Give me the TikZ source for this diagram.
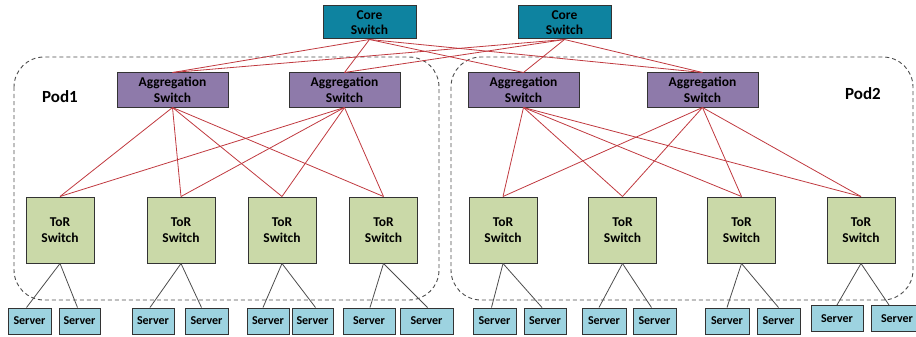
\documentclass[tikz,border=0pt]{standalone}
\usepackage{fontspec}
\setmainfont{Carlito}
\begin{document}
\begin{tikzpicture}[x=1pt,y=-1pt,
  box/.style={draw=black!80, line width=1pt, font=\bfseries\fontsize{13.5}{15.5}\selectfont,
    align=center, inner sep=0pt, text=black},
  coresw/.style={box, fill=coreblue, minimum width=93pt, minimum height=33pt},
  aggsw/.style={box, fill=aggpurple, minimum width=111pt, minimum height=34pt},
  torsw/.style={box, fill=torgreen, minimum width=68pt, minimum height=66pt},
  srv/.style={box, fill=srvblue, minimum height=26pt, font=\bfseries\fontsize{12}{13}\selectfont},
  uplink/.style={draw=linkred, line width=0.8pt},
  downlink/.style={draw=black!70, line width=0.8pt},
  pod/.style={draw=black!70, dashed, dash pattern=on 4pt off 3pt, line width=0.9pt, rounded corners=30pt},
  podlabel/.style={font=\bfseries\fontsize{17}{20}\selectfont, text=black}
]
\definecolor{coreblue}{HTML}{0E83A0}
\definecolor{aggpurple}{HTML}{8E7AAA}
\definecolor{torgreen}{HTML}{CAD9A8}
\definecolor{srvblue}{HTML}{9DD3E0}
\definecolor{linkred}{HTML}{C0393F}

\useasboundingbox (0,0) rectangle (916,337);

% pods
\draw[pod] (14,57) rectangle (439,300);
\draw[pod] (451,57) rectangle (913,300);
\node[podlabel] (pod1) at (60,97) {Pod1};
\node[podlabel] (pod2) at (863,94) {Pod2};

% core layer
\node[coresw] (c1) at (369.5,22.5) {Core\\Switch};
\node[coresw] (c2) at (564.5,22.5) {Core\\Switch};

% aggregation layer
\node[aggsw] (a1) at (172.5,90) {Aggregation\\Switch};
\node[aggsw] (a2) at (344.5,90) {Aggregation\\Switch};
\node[aggsw] (a3) at (523.5,90) {Aggregation\\Switch};
\node[aggsw] (a4) at (702.5,90) {Aggregation\\Switch};

% top-of-rack layer
\node[torsw] (t1) at (60,230) {ToR\\Switch};
\node[torsw] (t2) at (181,230) {ToR\\Switch};
\node[torsw] (t3) at (282,230) {ToR\\Switch};
\node[torsw] (t4) at (383.5,230) {ToR\\Switch};
\node[torsw] (t5) at (503,230) {ToR\\Switch};
\node[torsw] (t6) at (622.5,230) {ToR\\Switch};
\node[torsw] (t7) at (741.5,230) {ToR\\Switch};
\node[torsw] (t8) at (861,230) {ToR\\Switch};

% servers
\node[srv, minimum width=43pt] (s1) at (29.5,321) {Server};
\node[srv, minimum width=41pt] (s2) at (79.5,321) {Server};
\node[srv, minimum width=42pt] (s3) at (153,321) {Server};
\node[srv, minimum width=43pt] (s4) at (206.5,321) {Server};
\node[srv, minimum width=42pt] (s5) at (268,321) {Server};
\node[srv, minimum width=41pt] (s6) at (312.5,321) {Server};
\node[srv, minimum width=52pt] (s7) at (369,321) {Server};
\node[srv, minimum width=53pt] (s8) at (426.5,321) {Server};
\node[srv, minimum width=43pt] (s9) at (494.5,321) {Server};
\node[srv, minimum width=42pt] (s10) at (545,321) {Server};
\node[srv, minimum width=44pt] (s11) at (604,321) {Server};
\node[srv, minimum width=43pt] (s12) at (654.5,321) {Server};
\node[srv, minimum width=44pt] (s13) at (727,321) {Server};
\node[srv, minimum width=43pt] (s14) at (778.5,321) {Server};
\node[srv, minimum width=52pt] (s15) at (837,318.5) {Server};
\node[srv, minimum width=52pt] (s16) at (897,318.5) {Server};

% core to aggregation links
\foreach \c in {c1,c2}
  \foreach \a in {a1,a2,a3,a4}
    \draw[uplink] (\c.south) -- (\a.north);

% aggregation to ToR links inside each pod
\foreach \a in {a1,a2}
  \foreach \t in {t1,t2,t3,t4}
    \draw[uplink] (\a.south) -- (\t.north);
\foreach \a in {a3,a4}
  \foreach \t in {t5,t6,t7,t8}
    \draw[uplink] (\a.south) -- (\t.north);

% ToR to server links
\draw[downlink] (t1.south) -- ([xshift=-3pt]s1.north);
\draw[downlink] (t1.south) -- ([xshift=-2pt]s2.north);
\draw[downlink] (t2.south) -- ([xshift=-3pt]s3.north);
\draw[downlink] (t2.south) -- ([xshift=-5pt]s4.north);
\draw[downlink] (t3.south) -- ([xshift=-5pt]s5.north);
\draw[downlink] (t3.south) -- ([xshift=3pt]s6.north);
\draw[downlink] (t4.south) -- ([xshift=1pt]s7.north);
\draw[downlink] (t4.south) -- ([xshift=1pt]s8.north);
\draw[downlink] (t5.south) -- ([xshift=-3pt]s9.north);
\draw[downlink] (t5.south) -- ([xshift=-3pt]s10.north);
\draw[downlink] (t6.south) -- ([xshift=-5pt]s11.north);
\draw[downlink] (t6.south) -- ([xshift=-3pt]s12.north);
\draw[downlink] (t7.south) -- (s13.north);
\draw[downlink] (t7.south) -- (s14.north);
\draw[downlink] (t8.south) -- (s15.north);
\draw[downlink] (t8.south) -- ([xshift=-8pt]s16.north);
\end{tikzpicture}
\end{document}
